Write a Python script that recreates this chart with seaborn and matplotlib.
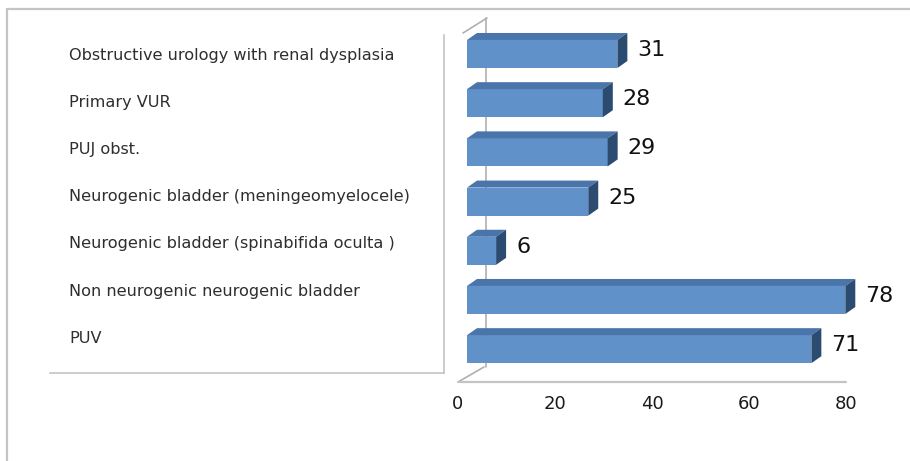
import matplotlib
matplotlib.use("Agg")
import matplotlib.pyplot as plt
import matplotlib.transforms as mtransforms
from matplotlib.patches import Polygon
from matplotlib.lines import Line2D
import pandas as pd
import seaborn as sns

# Data (top to bottom)
CATEGORIES = [
    "Obstructive urology with renal dysplasia",
    "Primary VUR",
    "PUJ obst.",
    "Neurogenic bladder (meningeomyelocele)",
    "Neurogenic bladder (spinabifida oculta )",
    "Non neurogenic neurogenic bladder",
    "PUV",
]
COUNTS = [31, 28, 29, 25, 6, 78, 71]
X_TICKS = [0, 20, 40, 60, 80]

FRONT = "#6191C9"
TOP = "#4A75AB"
SIDE = "#2B4B71"
FRAME = "#C4C4C4"

W, H = 910, 461


def fig_px(x, y):
    """Pixel position (from top-left) -> figure fraction."""
    return x / W, 1 - y / H


def add_3d_faces(ax, dx=10, dy=7):
    """Add a top and a side face to each bar, offset in pixels."""
    to_data = ax.transData.inverted()
    for bar in list(ax.patches):
        x0, y0 = bar.get_x(), bar.get_y()
        x1, y1 = x0 + bar.get_width(), y0 + bar.get_height()
        (l, b1), (r, b2) = ax.transData.transform([(x0, y0), (x1, y1)])
        bot, top = min(b1, b2), max(b1, b2)
        top_face = [(l, top), (r, top), (r + dx, top + dy), (l + dx, top + dy)]
        side_face = [(r, bot), (r, top), (r + dx, top + dy), (r + dx, bot + dy)]
        for pts, col in ((top_face, TOP), (side_face, SIDE)):
            poly = Polygon(to_data.transform(pts), closed=True, facecolor=col,
                           edgecolor="none", zorder=3, clip_on=False)
            ax.add_patch(poly)


def main():
    sns.set_style("white")
    plt.rcParams["font.family"] = ["DejaVu Sans"]

    df = pd.DataFrame({"category": CATEGORIES, "count": COUNTS})

    fig = plt.figure(figsize=(W / 100, H / 100), dpi=100)
    fig.patch.set_facecolor("white")

    # outer frame (left and top edges)
    fig.add_artist(Line2D(*zip(fig_px(7, 9), fig_px(7, H)), color=FRAME, lw=1.6))
    fig.add_artist(Line2D(*zip(fig_px(7, 9), fig_px(W, 9)), color=FRAME, lw=1.6))

    # --- label panel ---
    lx0, ly0 = fig_px(50, 373)
    lab_ax = fig.add_axes([lx0, ly0, 394 / W, 338 / H])
    lab_ax.patch.set_alpha(0)
    lab_ax.set_ylim(6.737, -0.424)
    lab_ax.set_xticks([])
    lab_ax.set_yticks([])
    for side in ("left", "top"):
        lab_ax.spines[side].set_visible(False)
    for side in ("right", "bottom"):
        lab_ax.spines[side].set_color(FRAME)
        lab_ax.spines[side].set_linewidth(1.2)
    for i, name in enumerate(CATEGORIES):
        lab_ax.text(0.048, i, name, transform=lab_ax.get_yaxis_transform(),
                    ha="left", va="center", fontsize=11.6, color="#2e2e2e")

    # --- bar chart ---
    bx0, by0 = fig_px(467, 382)
    ax = fig.add_axes([bx0, by0, 388 / W, 352.6 / H])
    ax.patch.set_alpha(0)
    sns.barplot(data=df, y="category", x="count", orient="h", color=FRONT,
                saturation=1, width=0.57, ax=ax, zorder=2,
                edgecolor="none", linewidth=0)
    ax.set_xlim(0, 80)
    ax.set_ylim(6.667, -0.5)
    ax.set_xlabel("")
    ax.set_ylabel("")
    ax.set_yticks([])
    ax.set_xticks(X_TICKS)
    ax.tick_params(axis="x", length=0, pad=9, labelsize=13, labelcolor="#1a1a1a")
    for sp in ax.spines.values():
        sp.set_visible(False)

    shift = mtransforms.ScaledTranslation(-9 / 100, 0, fig.dpi_scale_trans)
    for lab in ax.get_xticklabels():
        lab.set_transform(lab.get_transform() + shift)

    # floor line and back wall edges
    ax.plot([0, 1], [0, 0], transform=ax.transAxes + shift, color=FRAME,
            lw=1.6, clip_on=False, zorder=1)
    for (xa, ya), (xb, yb) in [((458, 382), (484, 367)),
                               ((463, 33), (487, 18)),
                               ((486, 18), (486, 367))]:
        fig.add_artist(Line2D(*zip(fig_px(xa, ya), fig_px(xb, yb)),
                              color="#B0B0B0", lw=1.2, zorder=0))

    add_3d_faces(ax)

    for bar, val in zip(ax.containers[0], COUNTS):
        y = bar.get_y() + bar.get_height() / 2
        ax.annotate(str(val), xy=(bar.get_width(), y), xytext=(20, 4),
                    textcoords="offset pixels", ha="left", va="center",
                    fontsize=16, color="#111111", annotation_clip=False)

    fig.savefig("out.png", dpi=100, facecolor="white")
    plt.close(fig)


if __name__ == "__main__":
    main()
